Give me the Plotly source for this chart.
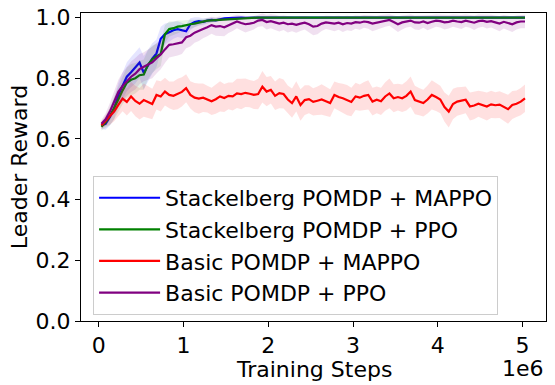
import numpy as np
import plotly.graph_objects as go

# training steps in units of 1e6
steps = [round(0.03 + 0.05 * i, 2) for i in range(101)]

series_names = [
    "Stackelberg POMDP + MAPPO",
    "Stackelberg POMDP + PPO",
    "Basic POMDP + MAPPO",
    "Basic POMDP + PPO",
]

stack_mappo = [
    0.645, 0.650, 0.672, 0.700, 0.745, 0.775, 0.805, 0.820, 0.835, 0.852,
    0.818, 0.840, 0.865, 0.882, 0.930, 0.945, 0.952, 0.958, 0.962, 0.958,
    0.955, 0.978, 0.985, 0.988, 0.986, 0.990, 0.992, 0.991, 0.995, 0.997,
    0.998, 0.999, 0.999, 1.0, 0.999, 1.0, 1.0, 1.0, 1.0, 1.0,
    1.0, 1.0, 1.0, 1.0, 1.0, 1.0, 1.0, 1.0, 1.0, 1.0,
    1.0, 1.0, 1.0, 1.0, 1.0, 1.0, 1.0, 1.0, 1.0, 1.0,
    1.0, 1.0, 1.0, 1.0, 1.0, 1.0, 1.0, 1.0, 1.0, 1.0,
    1.0, 1.0, 1.0, 1.0, 1.0, 1.0, 1.0, 1.0, 1.0, 1.0,
    1.0, 1.0, 1.0, 1.0, 1.0, 1.0, 1.0, 1.0, 1.0, 1.0,
    1.0, 1.0, 1.0, 1.0, 1.0, 1.0, 1.0, 1.0, 1.0, 1.0,
    1.0,
]
stack_mappo_std = [
    0.012, 0.020, 0.028, 0.035, 0.040, 0.045, 0.048, 0.050, 0.052, 0.050,
    0.055, 0.052, 0.050, 0.046, 0.040, 0.035, 0.032, 0.028, 0.026, 0.025,
    0.022, 0.020, 0.016, 0.013, 0.011, 0.009, 0.007, 0.006, 0.004, 0.003,
    0.002, 0.002, 0.001, 0.001, 0.001, 0.0, 0.0, 0.0, 0.0, 0.0,
    0.0, 0.0, 0.0, 0.0, 0.0, 0.0, 0.0, 0.0, 0.0, 0.0,
    0.0, 0.0, 0.0, 0.0, 0.0, 0.0, 0.0, 0.0, 0.0, 0.0,
    0.0, 0.0, 0.0, 0.0, 0.0, 0.0, 0.0, 0.0, 0.0, 0.0,
    0.0, 0.0, 0.0, 0.0, 0.0, 0.0, 0.0, 0.0, 0.0, 0.0,
    0.0, 0.0, 0.0, 0.0, 0.0, 0.0, 0.0, 0.0, 0.0, 0.0,
    0.0, 0.0, 0.0, 0.0, 0.0, 0.0, 0.0, 0.0, 0.0, 0.0,
    0.0,
]

stack_ppo = [
    0.640, 0.655, 0.675, 0.700, 0.730, 0.760, 0.785, 0.795, 0.800, 0.810,
    0.812, 0.845, 0.862, 0.872, 0.880, 0.945, 0.962, 0.965, 0.970, 0.972,
    0.976, 0.978, 0.980, 0.984, 0.988, 0.990, 0.991, 0.992, 0.993, 0.994,
    0.995, 0.996, 0.997, 0.998, 0.999, 1.0, 1.0, 1.0, 1.0, 1.0,
    1.0, 1.0, 1.0, 1.0, 1.0, 1.0, 1.0, 1.0, 1.0, 1.0,
    1.0, 1.0, 1.0, 1.0, 1.0, 1.0, 1.0, 1.0, 1.0, 1.0,
    1.0, 1.0, 1.0, 1.0, 1.0, 1.0, 1.0, 1.0, 1.0, 1.0,
    1.0, 1.0, 1.0, 1.0, 1.0, 1.0, 1.0, 1.0, 1.0, 1.0,
    1.0, 1.0, 1.0, 1.0, 1.0, 1.0, 1.0, 1.0, 1.0, 1.0,
    1.0, 1.0, 1.0, 1.0, 1.0, 1.0, 1.0, 1.0, 1.0, 1.0,
    1.0,
]
stack_ppo_std = [
    0.012, 0.020, 0.030, 0.036, 0.042, 0.046, 0.050, 0.052, 0.050, 0.048,
    0.050, 0.048, 0.045, 0.042, 0.040, 0.030, 0.025, 0.022, 0.020, 0.018,
    0.016, 0.015, 0.013, 0.011, 0.009, 0.008, 0.007, 0.006, 0.005, 0.004,
    0.003, 0.003, 0.002, 0.002, 0.001, 0.0, 0.0, 0.0, 0.0, 0.0,
    0.0, 0.0, 0.0, 0.0, 0.0, 0.0, 0.0, 0.0, 0.0, 0.0,
    0.0, 0.0, 0.0, 0.0, 0.0, 0.0, 0.0, 0.0, 0.0, 0.0,
    0.0, 0.0, 0.0, 0.0, 0.0, 0.0, 0.0, 0.0, 0.0, 0.0,
    0.0, 0.0, 0.0, 0.0, 0.0, 0.0, 0.0, 0.0, 0.0, 0.0,
    0.0, 0.0, 0.0, 0.0, 0.0, 0.0, 0.0, 0.0, 0.0, 0.0,
    0.0, 0.0, 0.0, 0.0, 0.0, 0.0, 0.0, 0.0, 0.0, 0.0,
    0.0,
]

basic_mappo = [
    0.645, 0.660, 0.672, 0.690, 0.712, 0.733, 0.722, 0.740, 0.725, 0.716,
    0.728, 0.722, 0.715, 0.745, 0.740, 0.756, 0.745, 0.742, 0.748, 0.755,
    0.767, 0.745, 0.736, 0.733, 0.736, 0.731, 0.724, 0.731, 0.740, 0.735,
    0.742, 0.740, 0.750, 0.748, 0.752, 0.749, 0.745, 0.748, 0.772, 0.756,
    0.762, 0.742, 0.751, 0.748, 0.730, 0.718, 0.740, 0.712, 0.728, 0.731,
    0.722, 0.726, 0.730, 0.724, 0.718, 0.745, 0.738, 0.734, 0.728, 0.722,
    0.740, 0.736, 0.742, 0.745, 0.723, 0.729, 0.724, 0.740, 0.750, 0.734,
    0.738, 0.734, 0.742, 0.756, 0.728, 0.723, 0.718, 0.730, 0.745, 0.738,
    0.730, 0.705, 0.690, 0.715, 0.723, 0.726, 0.729, 0.707, 0.710, 0.716,
    0.712, 0.707, 0.714, 0.711, 0.713, 0.706, 0.698, 0.712, 0.716, 0.723,
    0.734,
]
basic_mappo_std = [
    0.012, 0.018, 0.025, 0.032, 0.038, 0.042, 0.045, 0.048, 0.050, 0.052,
    0.055, 0.052, 0.050, 0.048, 0.050, 0.046, 0.044, 0.047, 0.050, 0.048,
    0.046, 0.045, 0.048, 0.050, 0.047, 0.044, 0.045, 0.048, 0.050, 0.046,
    0.044, 0.046, 0.048, 0.050, 0.047, 0.045, 0.046, 0.050, 0.052, 0.048,
    0.045, 0.047, 0.050, 0.048, 0.046, 0.048, 0.050, 0.052, 0.049, 0.046,
    0.045, 0.047, 0.050, 0.048, 0.046, 0.044, 0.046, 0.048, 0.050, 0.047,
    0.045, 0.043, 0.046, 0.048, 0.046, 0.044, 0.045, 0.047, 0.049, 0.046,
    0.044, 0.045, 0.048, 0.050, 0.047, 0.045, 0.044, 0.046, 0.048, 0.046,
    0.045, 0.048, 0.052, 0.050, 0.047, 0.045, 0.044, 0.046, 0.045, 0.043,
    0.044, 0.046, 0.045, 0.043, 0.044, 0.046, 0.048, 0.046, 0.044, 0.045,
    0.045,
]

basic_ppo = [
    0.650, 0.665, 0.690, 0.720, 0.755, 0.775, 0.790, 0.805, 0.815, 0.830,
    0.838, 0.845, 0.852, 0.866, 0.878, 0.895, 0.910, 0.912, 0.915, 0.918,
    0.935, 0.940, 0.950, 0.955, 0.962, 0.968, 0.975, 0.970, 0.972, 0.968,
    0.975, 0.980, 0.987, 0.982, 0.978, 0.980, 0.983, 0.990, 0.992, 0.985,
    0.988, 0.984, 0.980, 0.983, 0.978, 0.980, 0.976, 0.980, 0.983, 0.978,
    0.970, 0.972, 0.980, 0.984, 0.982, 0.980, 0.983, 0.978, 0.982, 0.980,
    0.985, 0.983, 0.987, 0.985, 0.980, 0.983, 0.986, 0.990, 0.992, 0.985,
    0.978, 0.984, 0.988, 0.990, 0.984, 0.983, 0.987, 0.982, 0.986, 0.990,
    0.988, 0.984, 0.986, 0.990, 0.987, 0.985, 0.990, 0.987, 0.983, 0.988,
    0.990, 0.986, 0.988, 0.984, 0.980, 0.986, 0.982, 0.978, 0.984, 0.987,
    0.987,
]
basic_ppo_std = [
    0.012, 0.020, 0.028, 0.035, 0.040, 0.045, 0.048, 0.050, 0.052, 0.050,
    0.048, 0.050, 0.052, 0.050, 0.048, 0.045, 0.042, 0.040, 0.040, 0.038,
    0.036, 0.035, 0.033, 0.032, 0.030, 0.030, 0.028, 0.030, 0.032, 0.030,
    0.026, 0.024, 0.022, 0.025, 0.027, 0.024, 0.022, 0.020, 0.021, 0.024,
    0.023, 0.025, 0.026, 0.024, 0.027, 0.025, 0.026, 0.024, 0.022, 0.025,
    0.028, 0.027, 0.024, 0.022, 0.023, 0.025, 0.023, 0.026, 0.024, 0.024,
    0.022, 0.023, 0.021, 0.022, 0.025, 0.023, 0.022, 0.020, 0.019, 0.022,
    0.026, 0.023, 0.021, 0.020, 0.023, 0.024, 0.021, 0.024, 0.022, 0.020,
    0.021, 0.023, 0.022, 0.020, 0.021, 0.023, 0.020, 0.021, 0.024, 0.022,
    0.020, 0.022, 0.021, 0.023, 0.025, 0.022, 0.024, 0.026, 0.023, 0.022,
    0.022,
]

means = [stack_mappo, stack_ppo, basic_mappo, basic_ppo]
stds = [stack_mappo_std, stack_ppo_std, basic_mappo_std, basic_ppo_std]
colors = ["rgb(0,0,255)", "rgb(0,128,0)", "rgb(255,0,0)", "rgb(128,0,128)"]
fills = ["rgba(0,0,255,0.1)", "rgba(0,128,0,0.1)", "rgba(255,0,0,0.12)", "rgba(128,0,128,0.12)"]

for m, s in zip(means, stds):
    assert len(m) == len(steps) and len(s) == len(steps)

fig = go.Figure()

for name, m, s, c, fc in zip(series_names, means, stds, colors, fills):
    m = np.array(m)
    s = np.array(s)
    upper = m + s
    lower = m - s
    fig.add_trace(go.Scatter(
        x=steps + steps[::-1],
        y=list(upper) + list(lower[::-1]),
        fill="toself",
        fillcolor=fc,
        line=dict(width=0),
        hoverinfo="skip",
        showlegend=False,
        legendgroup=name,
    ))
    fig.add_trace(go.Scatter(
        x=steps,
        y=m,
        mode="lines",
        line=dict(color=c, width=2.2),
        name=name,
        legendgroup=name,
    ))

FONT = dict(family="DejaVu Sans", size=22, color="black")

fig.update_layout(
    width=555,
    height=385,
    margin=dict(l=81, r=9, t=13, b=64),
    plot_bgcolor="white",
    paper_bgcolor="white",
    font=FONT,
    legend=dict(
        x=0.026, y=0.471, xanchor="left", yanchor="top",
        bgcolor="rgba(255,255,255,0.8)",
        bordercolor="#cccccc", borderwidth=1,
        font=FONT,
        itemwidth=61,
        tracegroupgap=0,
        traceorder="grouped",
    ),
    annotations=[
        dict(text="Training Steps", x=0.5, y=-0.156, xref="paper", yref="paper",
             xanchor="center", yanchor="middle", showarrow=False, font=FONT),
        dict(text="Leader Reward", x=-0.133, y=0.5, xref="paper", yref="paper",
             xanchor="center", yanchor="middle", textangle=-90, showarrow=False, font=FONT),
        dict(text="1e6", x=1, y=-0.153, xref="paper", yref="paper",
             xanchor="right", yanchor="middle", showarrow=False, font=FONT),
    ],
)

fig.update_xaxes(
    range=[-0.211, 5.278],
    tickvals=[0, 1, 2, 3, 4, 5],
    ticktext=["0", "1", "2", "3", "4", "5"],
    ticks="outside", ticklen=5, tickcolor="black",
    showline=True, linecolor="black", linewidth=1, mirror=True,
    showgrid=False, zeroline=False, automargin=False,
)
fig.update_yaxes(
    range=[0, 1.015],
    tickvals=[0, 0.2, 0.4, 0.6, 0.8, 1.0],
    ticktext=["0.0", "0.2", "0.4", "0.6", "0.8", "1.0"],
    ticks="outside", ticklen=5, tickcolor="black",
    showline=True, linecolor="black", linewidth=1, mirror=True,
    showgrid=False, zeroline=False, automargin=False,
)

fig.write_html("out.html", config={"displayModeBar": False},
               post_script="document.body.style.margin='0';")
